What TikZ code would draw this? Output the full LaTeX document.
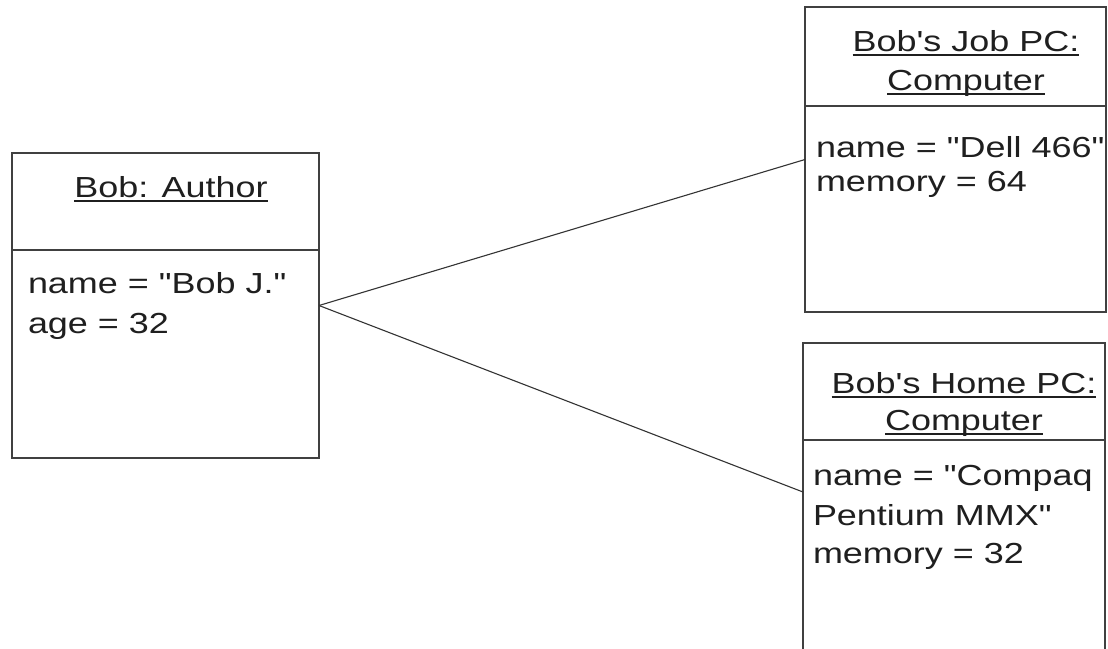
\documentclass[tikz,border=0pt]{standalone}
\usepackage{graphicx}
\usepackage{fontspec}
\setmainfont{Liberation Sans}[Ligatures=TeXOff]
\newcommand{\widetxt}[1]{\scalebox{1.24}[1]{#1}}
\newcommand{\myul}[1]{\leavevmode\setbox0\hbox{#1}\rlap{\rule[-4.5pt]{\wd0}{1.7pt}}\box0}
\newcommand{\dq}{\symbol{34}}
\newcommand{\sq}{\symbol{39}}
\tikzset{
  objbox/.style={draw=black!75, line width=1.3pt, inner sep=0pt, outer sep=0pt, anchor=north west},
  divider/.style={draw=black!75, line width=1.3pt},
  link/.style={draw=black!80, line width=1.1pt},
  txt/.style={inner sep=0pt, outer sep=0pt, text=black!88, font=\fontsize{29}{35}\selectfont},
  attr/.style={txt, anchor=base west},
  ttl/.style={txt, anchor=base},
}
\begin{document}
\begin{tikzpicture}[x=1pt,y=-1pt]
\useasboundingbox (0,0) rectangle (1108,648);
\clip (0,0) rectangle (1108,648);
\fill[white] (0,0) rectangle (1108,648);
% boxes
\node[objbox, minimum width=307pt, minimum height=305pt] (author) at (12,153) {};
\node[objbox, minimum width=301pt, minimum height=305pt] (job) at (805,7) {};
\node[objbox, minimum width=302pt, minimum height=320pt] (home) at (803,343) {};
% dividers
\draw[divider] (author.west |- 0,250) -- (author.east |- 0,250);
\draw[divider] (job.west |- 0,106) -- (job.east |- 0,106);
\draw[divider] (home.west |- 0,440) -- (home.east |- 0,440);
% texts
\node[ttl] (authorT) at (171,197) {\widetxt{\myul{Bob: Author}}};
\node[attr] (authorA1) at (28,293) {\widetxt{name = \dq Bob J.\dq}};
\node[attr] (authorA2) at (28,333) {\widetxt{age = 32}};
\node[ttl] (jobT1) at (966,51) {\widetxt{\myul{Bob\sq s Job PC:}}};
\node[ttl] (jobT2) at (966,90) {\widetxt{\myul{Computer}}};
\node[attr] (jobA1) at (816,157) {\widetxt{name = \dq Dell 466\dq}};
\node[attr] (jobA2) at (816,191) {\widetxt{memory = 64}};
\node[ttl] (homeT1) at (964,393) {\widetxt{\myul{Bob\sq s Home PC:}}};
\node[ttl] (homeT2) at (964,430) {\widetxt{\myul{Computer}}};
\node[attr] (homeA1) at (813,485) {\widetxt{name = \dq Compaq}};
\node[attr] (homeA2) at (813,525) {\widetxt{Pentium MMX\dq}};
\node[attr] (homeA3) at (813,563) {\widetxt{memory = 32}};
% connectors
\coordinate (homeIn) at (803,492);
\draw[link] (author.east) -- (job.west);
\draw[link] (author.east) -- (homeIn);
\end{tikzpicture}
\end{document}
